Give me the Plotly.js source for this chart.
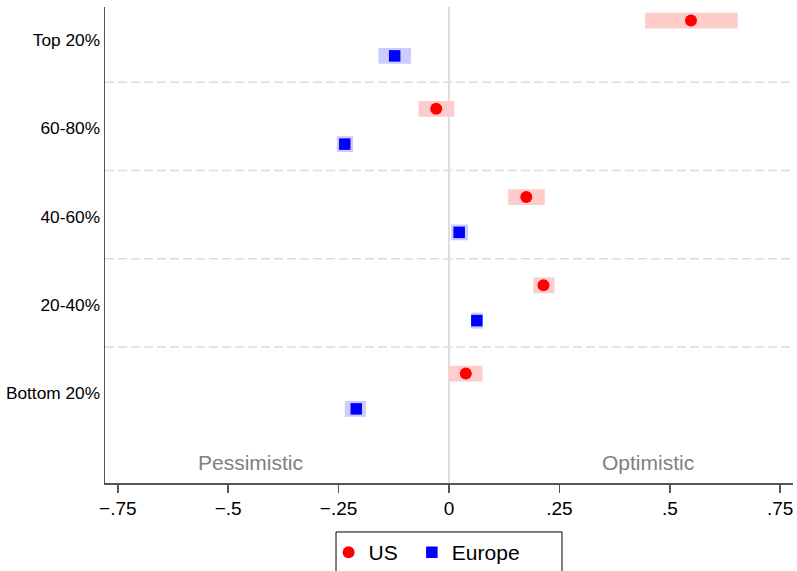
<!DOCTYPE html>
<html>
<head>
<meta charset="utf-8">
<script src="https://cdn.plot.ly/plotly-3.0.1.min.js"></script>
<style>html,body{margin:0;padding:0;background:#fff;}#chart{width:797px;height:571px;}</style>
</head>
<body>
<div id="chart"></div>
<script>
// Income groups (top to bottom)
const categories = ["Top 20%", "60-80%", "40-60%", "20-40%", "Bottom 20%"];
// US estimates and 95% CI
const usMean = [0.548, -0.029, 0.175, 0.214, 0.038];
const usLo   = [0.444, -0.069, 0.134, 0.191, 0.001];
const usHi   = [0.654,  0.012, 0.217, 0.239, 0.076];
// Europe estimates and 95% CI
const euMean = [-0.123, -0.236, 0.023, 0.063, -0.210];
const euLo   = [-0.160, -0.254, 0.005, 0.050, -0.236];
const euHi   = [-0.086, -0.217, 0.043, 0.077, -0.188];
// x-axis ticks
const xTickVals = [-0.75, -0.5, -0.25, 0, 0.25, 0.5, 0.75];
const xTickText = ["\u2212.75", "\u2212.5", "\u2212.25", "0", ".25", ".5", ".75"];

const n = categories.length;
const pos = categories.map((c, i) => n - i);     // 5..1
const usY = pos.map(p => p + 0.22);
const euY = pos.map(p => p - 0.18);
const barW = 0.18;

const traces = [
  {type: "bar", orientation: "h", y: usY, base: usLo, x: usHi.map((h, i) => h - usLo[i]),
   width: barW, marker: {color: "#ffcccc", line: {width: 0}}, showlegend: false, hoverinfo: "skip"},
  {type: "bar", orientation: "h", y: euY, base: euLo, x: euHi.map((h, i) => h - euLo[i]),
   width: barW, marker: {color: "#ccccff", line: {width: 0}}, showlegend: false, hoverinfo: "skip"},
  {type: "scatter", mode: "markers", name: "US", x: usMean, y: usY, legend: "legend",
   marker: {symbol: "circle", size: 12, color: "#ff0000"}},
  {type: "scatter", mode: "markers", name: "Europe", x: euMean, y: euY, legend: "legend2",
   marker: {symbol: "square", size: 11.5, color: "#0000ff"}}
];

const shapes = [];
for (let g = 1; g < n; g++) {
  shapes.push({type: "line", xref: "paper", x0: 0, x1: 1, yref: "y", y0: g + 0.52, y1: g + 0.52,
    line: {color: "#dcdcdc", width: 1.5, dash: "9px,4px"}, layer: "below"});
}
// legend frame
shapes.push({type: "rect", xref: "paper", yref: "paper", x0: 0.3358, x1: 0.6642, y0: -0.1029, y1: -0.25,
  line: {color: "#000", width: 1}, fillcolor: "rgba(0,0,0,0)"});

const font = "Liberation Sans, Arial, Helvetica, sans-serif";
const legendBase = {orientation: "h", xanchor: "left", y: -0.103, yanchor: "top",
  borderwidth: 0, bgcolor: "rgba(0,0,0,0)", font: {size: 21, family: font, color: "#000"}, itemwidth: 30};
const layout = {
  width: 797, height: 571,
  margin: {l: 105, r: 4, t: 7, b: 88, autoexpand: false},
  paper_bgcolor: "#ffffff", plot_bgcolor: "#ffffff",
  font: {family: font, color: "#000"},
  barmode: "overlay",
  xaxis: {
    range: [-0.779, 0.779], tickvals: xTickVals, ticktext: xTickText,
    showgrid: false, zeroline: true, zerolinecolor: "#dddddd", zerolinewidth: 2,
    showline: true, linecolor: "#555555", linewidth: 1.5,
    ticks: "outside", ticklen: 8, tickwidth: 1.5, tickcolor: "#555555",
    tickfont: {size: 19, family: font, color: "#000"}, fixedrange: true, automargin: false
  },
  yaxis: {
    range: [-0.02, 5.374], tickvals: pos, ticktext: categories,
    showgrid: false, zeroline: false, showline: true, linecolor: "#555555", linewidth: 1.5,
    ticks: "", ticklabelstandoff: 0,
    tickfont: {size: 17.3, family: font, color: "#000"}, fixedrange: true, automargin: false
  },
  shapes: shapes,
  annotations: [
    {text: "Pessimistic", x: -0.45, xref: "x", y: 0.043, yref: "paper", yanchor: "middle", showarrow: false,
     font: {size: 21, color: "#808080", family: font}},
    {text: "Optimistic", x: 0.45, xref: "x", y: 0.043, yref: "paper", yanchor: "middle", showarrow: false,
     font: {size: 21, color: "#808080", family: font}}
  ],
  showlegend: true,
  legend: Object.assign({}, legendBase, {x: 0.325}),
  legend2: Object.assign({}, legendBase, {x: 0.446})
};

Plotly.newPlot("chart", traces, layout, {displayModeBar: false, staticPlot: true});
</script>
</body>
</html>
